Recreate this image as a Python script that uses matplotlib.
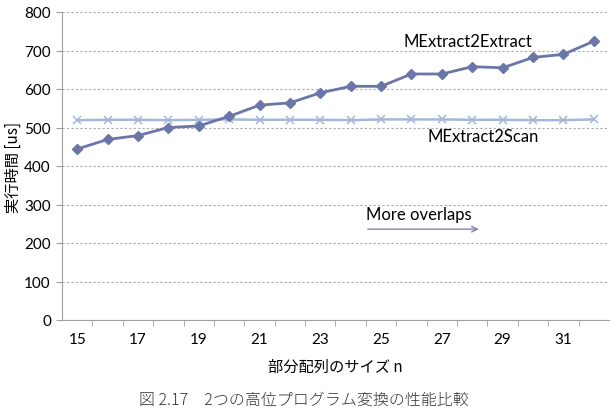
import matplotlib
matplotlib.use("Agg")
import matplotlib.pyplot as plt
from matplotlib.ticker import MultipleLocator

# data
sizes = list(range(15, 33))
extract_us = [444, 469, 479, 500, 504, 529, 558, 564, 590, 607,
              607, 639, 639, 658, 655, 682, 690, 724]
scan_us = [519, 520, 520, 519, 520, 521, 520, 520, 520, 519,
           521, 521, 521, 520, 520, 519, 519, 521]
xtick_labels = [15, 17, 19, 21, 23, 25, 27, 29, 31]

jp_font = ['Noto Sans CJK JP', 'DejaVu Sans']
num_font = 'Lato'

fig = plt.figure(figsize=(6.14, 4.10), dpi=100)
fig.patch.set_facecolor('white')
ax = fig.add_axes([62 / 614, 1 - 321 / 410, (609 - 62) / 614, (321 - 13) / 410])

# series
ax.plot(sizes, scan_us, color='#a3b8d6', linewidth=1.8, marker='x',
        markersize=6, markeredgewidth=1.1, zorder=3)
ax.plot(sizes, extract_us, color='#6b76a8', linewidth=2.0, marker='D',
        markersize=5, zorder=4)

# axes styling
ax.set_xlim(14.5, 32.5)
ax.set_ylim(0, 800)
ax.yaxis.set_major_locator(MultipleLocator(100))
ax.set_xticks(xtick_labels)
ax.set_xticks([s + 0.5 for s in sizes[:-1]], minor=True)
ax.tick_params(axis='x', which='major', length=0, pad=9, labelsize=11)
ax.tick_params(axis='x', which='minor', length=4, color='#a0a0a0', direction='out')
ax.tick_params(axis='y', length=4, color='#a0a0a0', pad=4, labelsize=11)
for lab in ax.get_xticklabels() + ax.get_yticklabels():
    lab.set_fontfamily(num_font)
ax.grid(axis='y', linestyle=(0, (2, 2)), color='#a8a8a8', linewidth=0.8)
ax.set_axisbelow(True)
ax.spines['top'].set_visible(False)
ax.spines['right'].set_visible(False)
ax.spines['left'].set_color('#a0a0a0')
ax.spines['bottom'].set_color('#a0a0a0')

# annotations
ax.text(0.742, 0.906, 'MExtract2Extract', transform=ax.transAxes, ha='center',
        va='center', fontsize=12, family=num_font)
ax.text(0.770, 0.597, 'MExtract2Scan', transform=ax.transAxes, ha='center',
        va='center', fontsize=12, family=num_font)
ax.text(0.556, 0.343, 'More overlaps', transform=ax.transAxes, ha='left',
        va='center', fontsize=12, family=num_font)
ax.annotate('', xy=(0.767, 0.295), xytext=(0.554, 0.295), xycoords='axes fraction',
            arrowprops=dict(arrowstyle='->', color='#7c83ad', lw=1.0))

ax.set_ylabel('実行時間 [us]', family=jp_font, fontsize=11, labelpad=2)
ax.set_xlabel('部分配列のサイズ n', family=jp_font, fontsize=11, labelpad=8)

fig.text(304 / 614, 1 - 400 / 410, '図 2.17　2つの高位プログラム変換の性能比較',
         ha='center', va='center', fontsize=11.5, family=jp_font,
         color='#333333', fontweight='light')

fig.savefig('out.png', dpi=100)
